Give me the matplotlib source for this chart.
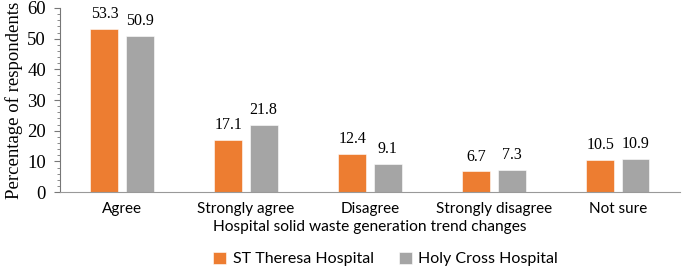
import numpy as np
import matplotlib
matplotlib.use("Agg")
import matplotlib.pyplot as plt
from matplotlib.ticker import MultipleLocator

categories = ["Agree", "Strongly agree", "Disagree", "Strongly disagree", "Not sure"]
st_theresa = [53.3, 17.1, 12.4, 6.7, 10.5]
holy_cross = [50.9, 21.8, 9.1, 7.3, 10.9]
series_names = ["ST Theresa Hospital", "Holy Cross Hospital"]

ORANGE = "#ED7D31"
GRAY = "#A5A5A5"
SERIF = "Liberation Serif"
SANS = "Lato"

fig = plt.figure(figsize=(6.85, 2.66), dpi=100)
ax = fig.add_axes([0.0876, 0.278, 0.905, 0.692])

x = np.arange(len(categories))
w = 0.225
off = 0.142
b1 = ax.bar(x - off, st_theresa, w, color=ORANGE, edgecolor="white", lw=0.4,
            label=series_names[0])
b2 = ax.bar(x + off, holy_cross, w, color=GRAY, edgecolor="white", lw=0.4,
            label=series_names[1])

for bars in (b1, b2):
    for r in bars:
        h = r.get_height()
        ax.annotate(f"{h:.1f}", (r.get_x() + r.get_width() / 2, h),
                    xytext=(0, 5), textcoords="offset points",
                    ha="center", va="bottom", fontsize=11.5, family=SERIF)

ax.set_xlim(-0.5, len(categories) - 0.5)
ax.set_ylim(0, 60)
ax.yaxis.set_major_locator(MultipleLocator(10))
ax.yaxis.set_minor_locator(MultipleLocator(2))
ax.tick_params(axis="y", which="major", length=4, color="#777777", labelsize=13.5, pad=6)
ax.tick_params(axis="y", which="minor", length=2.5, color="#777777")
for lab in ax.get_yticklabels():
    lab.set_family(SERIF)
ax.set_xticks(x)
ax.set_xticklabels(categories, family=SANS, fontsize=11)
ax.tick_params(axis="x", length=0, pad=7)

for s in ("top", "right"):
    ax.spines[s].set_visible(False)
ax.spines["left"].set_color("#777777")
ax.spines["bottom"].set_color("#999999")

ax.set_ylabel("Percentage of respondents", family=SERIF, fontsize=13.5, labelpad=3)
ax.set_xlabel("Hospital solid waste generation trend changes", family=SANS,
              fontsize=11.2, labelpad=3)

fig.legend(handles=[b1, b2], loc="lower center", bbox_to_anchor=(0.563, -0.055),
           ncol=2, frameon=False, prop={"family": SANS, "size": 11.5},
           handlelength=0.8, handleheight=0.8, columnspacing=1.6, handletextpad=0.4)

fig.savefig("out.png", dpi=100)
